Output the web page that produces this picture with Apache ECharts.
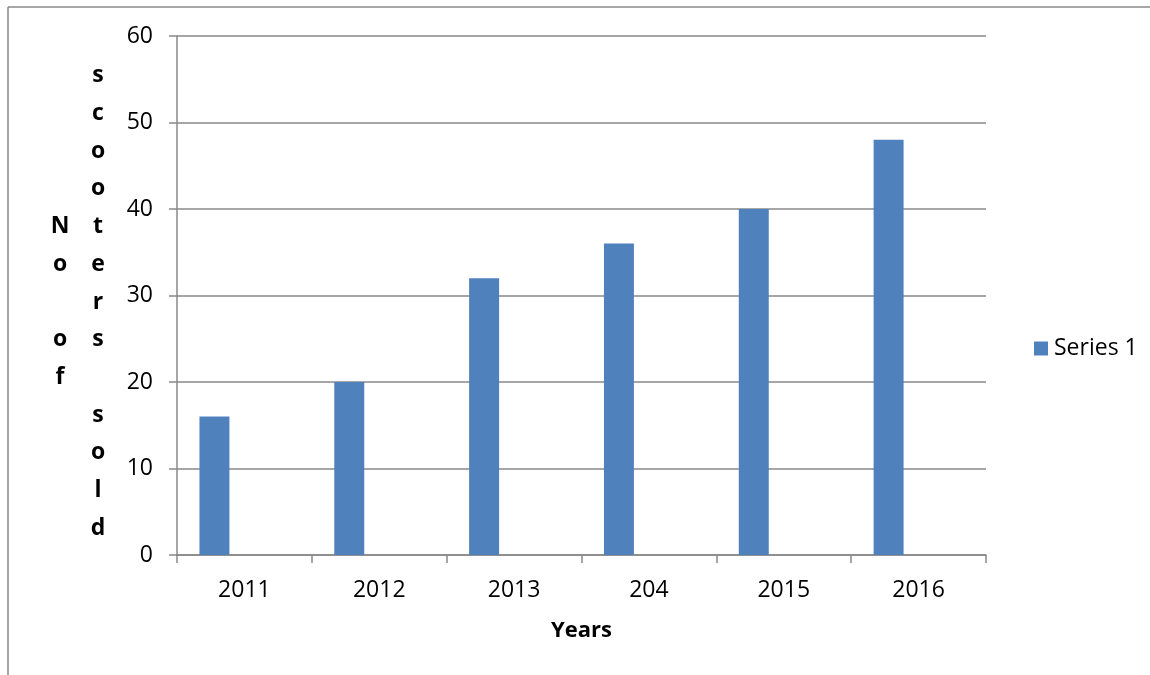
<!DOCTYPE html>
<html>
<head>
<meta charset="utf-8">
<script src="https://cdn.jsdelivr.net/npm/echarts@6/dist/echarts.min.js"></script>
<style>
  html, body { margin: 0; padding: 0; background: #fff; }
  #chart { width: 1150px; height: 675px; }
</style>
</head>
<body>
<div id="chart"></div>
<script>
  // data
  var years = ['2011', '2012', '2013', '204', '2015', '2016'];
  var series1 = [16, 20, 32, 36, 40, 48];
  // Excel left two empty series next to it, so bars sit on the left of each slot
  var series2 = [null, null, null, null, null, null];
  var series3 = [null, null, null, null, null, null];
  var yTicks = { min: 0, max: 60, interval: 10 };

  var font = 'Open Sans';
  var gray = '#888888';

  var chart = echarts.init(document.getElementById('chart'), null, { renderer: 'canvas' });

  chart.setOption({
    animation: false,
    textStyle: { fontFamily: font },
    grid: { left: 177, right: 164, top: 36, bottom: 120 },
    legend: {
      data: ['Series 1'],
      left: 1029,
      top: 332,
      itemWidth: 14,
      itemHeight: 14,
      icon: 'rect',
      textStyle: { fontSize: 23, color: '#000', fontFamily: font, padding: [0, 0, 0, 1] }
    },
    xAxis: {
      type: 'category',
      data: years,
      name: 'Years',
      nameLocation: 'middle',
      nameGap: 65,
      nameTextStyle: { fontSize: 22, fontWeight: 'bold', color: '#000', fontFamily: font },
      axisLine: { lineStyle: { color: gray, width: 1.5 } },
      axisTick: { show: true, length: 8, lineStyle: { color: gray, width: 1.5 } },
      axisLabel: { fontSize: 23, color: '#000', margin: 24 },
      splitLine: { show: false }
    },
    yAxis: {
      type: 'value',
      min: yTicks.min,
      max: yTicks.max,
      interval: yTicks.interval,
      axisLine: { show: true, lineStyle: { color: gray, width: 1.5 } },
      axisTick: { show: true, length: 8, lineStyle: { color: gray, width: 1.5 } },
      axisLabel: { fontSize: 23, color: '#000', margin: 24 },
      splitLine: { lineStyle: { color: gray, width: 1.5 } }
    },
    series: [
      { name: 'Series 1', type: 'bar', data: series1, barGap: 0, barCategoryGap: '33.3%',
        itemStyle: { color: '#4F81BD' } },
      { name: 'Series 2', type: 'bar', data: series2, barGap: 0, barCategoryGap: '33.3%',
        itemStyle: { color: '#C0504D' } },
      { name: 'Series 3', type: 'bar', data: series3, barGap: 0, barCategoryGap: '33.3%',
        itemStyle: { color: '#9BBB59' } }
    ],
    graphic: [
      // chart frame (top and left edges)
      { type: 'line', shape: { x1: 8, y1: 7, x2: 1150, y2: 7 }, style: { stroke: gray, lineWidth: 1.5 } },
      { type: 'line', shape: { x1: 8, y1: 7, x2: 8, y2: 675 }, style: { stroke: gray, lineWidth: 1.5 } },
      // y axis title, one letter per line in two columns
      { type: 'text', x: 60, y: 207.5,
        style: { text: 'N\no\n\no\nf', textAlign: 'center', lineHeight: 37.7,
                 font: 'bold 23px "Open Sans"', fill: '#000' } },
      { type: 'text', x: 98, y: 57,
        style: { text: 's\nc\no\no\nt\ne\nr\ns\n\ns\no\nl\nd', textAlign: 'center', lineHeight: 37.7,
                 font: 'bold 23px "Open Sans"', fill: '#000' } }
    ]
  });
</script>
</body>
</html>
